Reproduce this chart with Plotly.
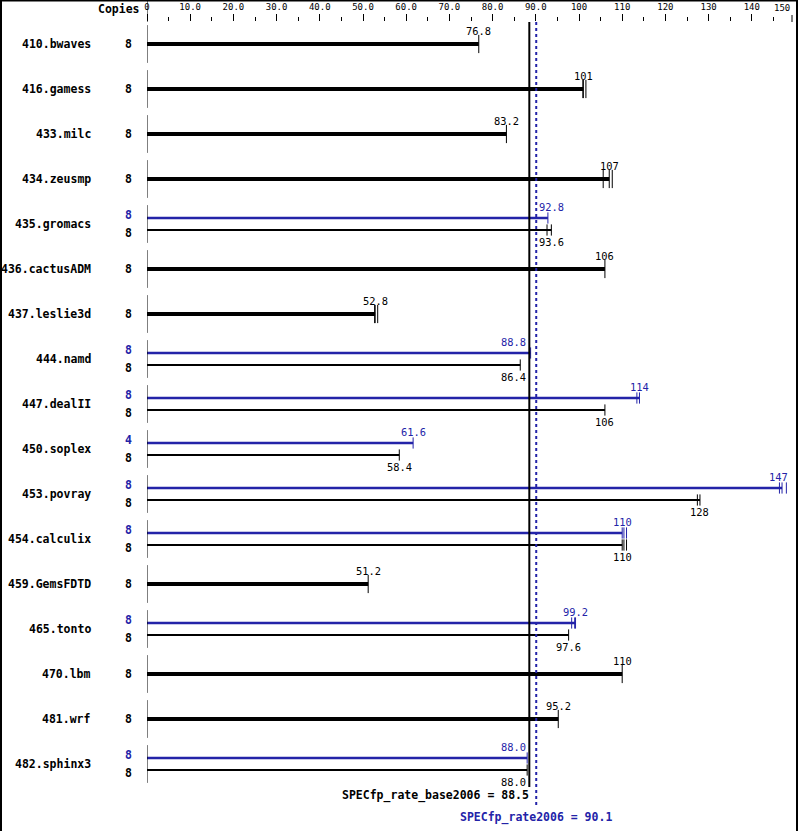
import plotly.graph_objects as go

# ---------------- data ----------------
benchmarks = ["410.bwaves", "416.gamess", "433.milc", "434.zeusmp", "435.gromacs",
              "436.cactusADM", "437.leslie3d", "444.namd", "447.dealII", "450.soplex",
              "453.povray", "454.calculix", "459.GemsFDTD", "465.tonto", "470.lbm",
              "481.wrf", "482.sphinx3"]
base_copies = [8, 8, 8, 8, 8, 8, 8, 8, 8, 8, 8, 8, 8, 8, 8, 8, 8]
base_vals = [76.8, 101, 83.2, 107, 93.6, 106, 52.8, 86.4, 106, 58.4, 128, 110, 51.2, 97.6, 110, 95.2, 88.0]
base_lo = [76.8, 100.9, 83.2, 105.6, 92.6, 106, 52.7, 86.4, 106, 58.4, 127.4, 110.4, 51.2, 97.6, 110, 95.2, 88.0]
base_hi = [76.8, 101.6, 83.2, 107.7, 93.6, 106, 53.4, 86.4, 106, 58.4, 128, 111.0, 51.2, 97.6, 110, 95.2, 88.0]
peak_copies = [None, None, None, None, 8, None, None, 8, 8, 4, 8, 8, None, 8, None, None, 8]
peak_vals = [None, None, None, None, 92.8, None, None, 88.8, 114, 61.6, 147, 110, None, 99.2, None, None, 88.0]
peak_lo = [None, None, None, None, 92.8, None, None, 88.8, 113.4, 61.6, 146.4, 110.4, None, 98.3, None, None, 88.0]
peak_hi = [None, None, None, None, 92.8, None, None, 88.8, 114.0, 61.6, 148.0, 111.0, None, 99.0, None, None, 88.0]
base_score = 88.5
peak_score = 90.1
base_score_label = "SPECfp_rate_base2006 = 88.5"
peak_score_label = "SPECfp_rate2006 = 90.1"
tick_values = [0, 10, 20, 30, 40, 50, 60, 70, 80, 90, 100, 110, 120, 130, 140]
tick_labels = ["0", "10.0", "20.0", "30.0", "40.0", "50.0", "60.0", "70.0", "80.0", "90.0",
               "100", "110", "120", "130", "140"]
last_tick_label = "150"

# ---------------- layout constants ----------------
W, H = 799, 831
ML, MR, MT, MB = 147, 7, 22, 0
PPU = 4.32                      # pixels per unit on x
XMAX = (W - ML - MR) / PPU
ROW = 45.0                      # pixels per row
ROW0 = 44.0                     # pixel y of first row centre
def py(p):                      # pixel y -> data y
    return (p - ROW0) / ROW
YR = [py(H - MB), py(MT)]

BLUE = "#2323a8"
MONO = "DejaVu Sans Mono"
PAIR = 6.0 / ROW                # vertical offset of bars in paired rows

fig = go.Figure()

# bars
sx, sy, bx, by, pxs, pys = [], [], [], [], [], []
end_s_x, end_s_y, end_b_x, end_b_y, end_p_x, end_p_y = [], [], [], [], [], []
for i in range(len(benchmarks)):
    if peak_vals[i] is None:
        sx += [0, base_vals[i], None]; sy += [i, i, None]
        for v in {base_lo[i], base_vals[i], base_hi[i]}:
            end_s_x.append(v); end_s_y.append(i)
    else:
        yb, yp = i + PAIR, i - PAIR
        bx += [0, base_vals[i], None]; by += [yb, yb, None]
        pxs += [0, peak_vals[i], None]; pys += [yp, yp, None]
        for v in {base_lo[i], base_vals[i], base_hi[i]}:
            end_b_x.append(v); end_b_y.append(yb)
        for v in {peak_lo[i], peak_vals[i], peak_hi[i]}:
            end_p_x.append(v); end_p_y.append(yp)

fig.add_trace(go.Scatter(x=sx, y=sy, mode="lines", line=dict(color="black", width=4), hoverinfo="skip"))
fig.add_trace(go.Scatter(x=bx, y=by, mode="lines", line=dict(color="black", width=2), hoverinfo="skip"))
fig.add_trace(go.Scatter(x=pxs, y=pys, mode="lines", line=dict(color=BLUE, width=2.5), hoverinfo="skip"))

def ticks(xs, ys, size, color):
    fig.add_trace(go.Scatter(x=xs, y=ys, mode="markers", hoverinfo="skip",
                             marker=dict(symbol="line-ns", size=size, color=color,
                                         line=dict(color=color, width=1))))
ticks(end_s_x, end_s_y, 13, "black")
ticks(end_b_x, end_b_y, 8, "black")
ticks(end_p_x, end_p_y, 8, BLUE)
ticks([0] * len(benchmarks), list(range(len(benchmarks))), 27, "black")

# reference lines
fig.add_shape(type="line", xref="x", yref="y", x0=base_score, x1=base_score,
              y0=YR[1], y1=py(787), line=dict(color="black", width=2))
fig.add_shape(type="line", xref="x", yref="y", x0=peak_score, x1=peak_score,
              y0=YR[1], y1=py(805), line=dict(color=BLUE, width=2, dash="dot"))

# value labels (avoid crossing the score lines)
VAL_FS = 10.4
def label_shift(v, text):
    w = 0.602 * VAL_FS * len(text)
    c = v * PPU
    left, right = c - w / 2, c + w / 2
    lb, lp = base_score * PPU - 3, peak_score * PPU + 2.5
    if left < lp and right > lb:
        sl, sr = right - lb, lp - left
        return -sl if sl <= sr else sr
    return 0

def fmt(v):
    return f"{v:.1f}" if v < 100 else f"{v:.0f}"

ann = []
def val_label(v, y, color):
    t = fmt(v)
    sh = label_shift(v, t)
    w = 0.602 * VAL_FS * len(t)
    over = v * PPU + w / 2 - (W - ML - MR - 4)
    if over > 0:
        sh -= over
    ann.append(dict(x=v, y=y, xref="x", yref="y", text=t, showarrow=False,
                    xanchor="center", yanchor="middle", xshift=sh,
                    font=dict(family=MONO, size=VAL_FS, color=color)))

for i, name in enumerate(benchmarks):
    ann.append(dict(x=0, y=i, xref="paper", yref="y", text=name, showarrow=False,
                    xanchor="right", yanchor="middle", xshift=-54,
                    font=dict(family=MONO, size=11.5, color="black", weight="bold")))
    if peak_vals[i] is None:
        ann.append(dict(x=0, y=i, xref="paper", yref="y", text=str(base_copies[i]), showarrow=False,
                        xanchor="right", yanchor="middle", xshift=-13,
                        font=dict(family=MONO, size=11.5, color="black", weight="bold")))
        val_label(base_vals[i], i - 13.5 / ROW, "black")
    else:
        ann.append(dict(x=0, y=i - 9 / ROW, xref="paper", yref="y", text=str(peak_copies[i]), showarrow=False,
                        xanchor="right", yanchor="middle", xshift=-13,
                        font=dict(family=MONO, size=11.5, color=BLUE, weight="bold")))
        ann.append(dict(x=0, y=i + 9 / ROW, xref="paper", yref="y", text=str(base_copies[i]), showarrow=False,
                        xanchor="right", yanchor="middle", xshift=-13,
                        font=dict(family=MONO, size=11.5, color="black", weight="bold")))
        val_label(peak_vals[i], i - PAIR - 11 / ROW, BLUE)
        val_label(base_vals[i], i + PAIR + 11.5 / ROW, "black")

# score labels
ann.append(dict(x=base_score, y=py(795), xref="x", yref="y", text=base_score_label, showarrow=False,
                xanchor="right", yanchor="middle", xshift=2,
                font=dict(family=MONO, size=11.5, color="black", weight="bold")))
ann.append(dict(x=peak_score, y=py(817), xref="x", yref="y", text=peak_score_label, showarrow=False,
                xanchor="center", yanchor="middle",
                font=dict(family=MONO, size=11.5, color=BLUE, weight="bold")))

# header
PH = H - MT - MB
ann.append(dict(x=0, y=1 + 13 / PH, xref="paper", yref="paper", text="Copies", showarrow=False,
                xanchor="right", yanchor="middle", xshift=-5,
                font=dict(family=MONO, size=11.5, color="black", weight="bold")))
ann.append(dict(x=1, y=1 + 14 / PH, xref="paper", yref="paper", text=last_tick_label, showarrow=False,
                xanchor="right", yanchor="middle", xshift=0,
                font=dict(family=MONO, size=9, color="black")))
fig.add_shape(type="line", xref="x", yref="paper", x0=0, x1=0, y0=1, y1=1 + MT / PH,
              line=dict(color="black", width=1))
fig.add_shape(type="line", xref="paper", yref="paper", x0=1, x1=1, y0=1, y1=1 + 7 / PH,
              line=dict(color="black", width=1))

# outer border
PW = W - ML - MR
fig.add_shape(type="rect", xref="paper", yref="paper",
              x0=(1 - ML) / PW, x1=(W - 2 - ML) / PW, y0=(MB - 1) / PH + 0.0, y1=1 + (MT - 0.5) / PH,
              line=dict(color="black", width=2), fillcolor="rgba(0,0,0,0)")

fig.update_layout(
    width=W, height=H, margin=dict(l=ML, r=MR, t=MT, b=MB, pad=0),
    paper_bgcolor="white", plot_bgcolor="white", showlegend=False,
    annotations=ann,
    xaxis=dict(range=[0, XMAX], side="top", tickvals=tick_values, ticktext=tick_labels,
               ticks="outside", ticklen=7, tickwidth=1, tickcolor="black",
               showgrid=False, zeroline=False, showline=False,
               tickfont=dict(family=MONO, size=9, color="black"),
               minor=dict(ticks="outside", ticklen=4, tickwidth=1, tickcolor="black",
                          dtick=5, tick0=0, showgrid=False)),
    yaxis=dict(range=YR, showgrid=False, zeroline=False, showline=False,
               showticklabels=False, ticks=""),
)

fig.write_html("out.html", config={"displayModeBar": False},
               post_script="document.body.style.margin='0';document.body.style.overflow='hidden';")
